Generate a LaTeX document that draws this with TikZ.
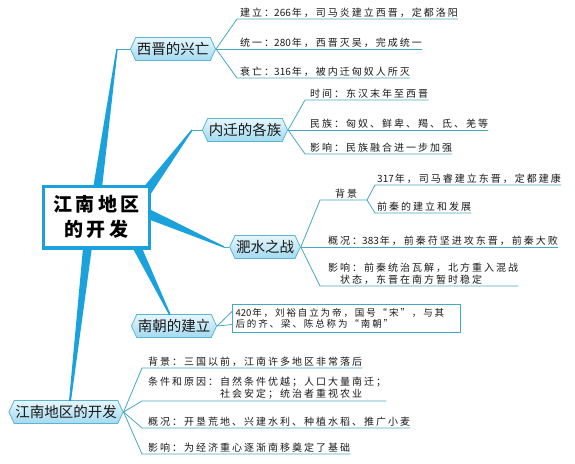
\documentclass[tikz,border=0pt]{standalone}
\usepackage{fontspec}
\setmainfont{Noto Sans CJK SC}
\newfontfamily\leaffont[LetterSpace=20]{Noto Sans CJK SC}
\newfontfamily\headfont{Noto Sans CJK SC}
\newfontfamily\titlefont{Noto Sans CJK SC}
\usetikzlibrary{shapes.symbols,calc}
\definecolor{thickc}{HTML}{1BA2DC}
\definecolor{thinc}{HTML}{45A9C3}
\definecolor{nodeborder}{HTML}{5BB5D1}
\definecolor{nodetop}{HTML}{E6F6FC}
\definecolor{nodebot}{HTML}{A3DAF1}
\definecolor{leafc}{HTML}{1A1A1A}
\newcommand\mmtaper[4]{\fill[thickc] ($(#1)!#3!90:(#2)$) -- ($(#2)!#4!-90:(#1)$) -- ($(#2)!#4!90:(#1)$) -- ($(#1)!#3!-90:(#2)$) -- cycle;}
\newcommand\tsp{\hspace{3.5pt}}
\newcommand\dgt[1]{{\headfont #1}\hspace{1pt}}
\tikzset{
  head/.style={signal, signal to=west and east, signal pointer angle=130,
    draw=nodeborder, line width=0.8pt, top color=nodetop, bottom color=nodebot,
    font=\headfont\fontsize{14.5}{14.5}\selectfont, text=black!90,
    inner xsep=1pt, inner ysep=3pt, minimum height=23pt},
  leaf/.style={anchor=south west, inner xsep=0pt, inner ysep=1.5pt,
    font=\leaffont\fontsize{10}{12}\selectfont, text=leafc, align=left},
  thinline/.style={draw=thinc, line width=0.8pt},
}
\begin{document}
\begin{tikzpicture}[x=1pt,y=-1pt]
\useasboundingbox (0,0) rectangle (575,463);
\fill[white] (0,0) rectangle (575,463);

% header nodes
\node[head] (xj) at (173,49) {西晋的兴亡};
\node[head] (nq) at (245,130) {内迁的各族};
\node[head] (fs) at (265,247) {淝水之战};
\node[head] (nc) at (174,326) {南朝的建立};
\node[head] (jn) at (66,412) {江南地区的开发};

% tapered branches
\coordinate (r1) at (97,192);  \coordinate (t1) at (117,49);
\coordinate (r2) at (146,192); \coordinate (t2) at (192,130);
\coordinate (r3) at (146,213); \coordinate (t3) at (224,247);
\coordinate (r4) at (135,243); \coordinate (t4) at (170,315);
\coordinate (r5) at (88,243);  \coordinate (t5) at (70,401);
\mmtaper{r1}{t1}{4.5pt}{0.7pt}
\mmtaper{r2}{t2}{5pt}{0.7pt}
\mmtaper{r3}{t3}{5pt}{0.7pt}
\mmtaper{r4}{t4}{4.5pt}{0.8pt}
\mmtaper{r5}{t5}{4.5pt}{1pt}
\draw[thinline] (t1) -- (xj.west);
\draw[thinline] (t2) -- (nq.west);
\draw[thinline] (t3) -- (fs.west);

% main box
\node[draw=thickc, line width=3.3pt, fill=white, minimum width=105.7pt,
  minimum height=61.7pt, align=center, inner sep=0pt,
  font=\titlefont\bfseries\fontsize{19}{25}\selectfont] (main) at (96.5,217)
  {江\tsp 南\tsp 地\tsp 区\\的\tsp 开\tsp 发};

% 西晋的兴亡
\node[leaf] (x1) at (240,19) {建立：\dgt{266}年，司马炎建立西晋，定都洛阳};
\node[leaf] (x2) at (240,49) {统一：\dgt{280}年，西晋灭吴，完成统一};
\node[leaf] (x3) at (240,78) {衰亡：\dgt{316}年，被内迁匈奴人所灭};
\coordinate (x1s) at (237,19);
\coordinate (x3s) at (237,78);
\draw[thinline] (xj.east) -- (x1s) -- (x1.south east);
\draw[thinline] (xj.east) -- (x2.south east);
\draw[thinline] (xj.east) -- (x3s) -- (x3.south east);

% 内迁的各族
\node[leaf] (n1) at (310,100) {时间：东汉末年至西晋};
\node[leaf] (n2) at (310,130) {民族：匈奴、鲜卑、羯、氐、羌等};
\node[leaf] (n3) at (310,154) {影响：民族融合进一步加强};
\coordinate (n1s) at (305,100);
\coordinate (n3s) at (305,154);
\draw[thinline] (nq.east) -- (n1s) -- (n1.south east);
\draw[thinline] (nq.east) -- (n2.south east);
\draw[thinline] (nq.east) -- (n3s) -- (n3.south east);

% 淝水之战
\node[leaf] (f0) at (335,200) {背景};
\coordinate (f0s) at (320,200);
\coordinate (f0e) at (367,200);
\node[leaf] (f1) at (377,185) {\dgt{317}年，司马睿建立东晋，定都建康};
\node[leaf] (f2) at (377,213) {前秦的建立和发展};
\coordinate (f1s) at (375,185);
\coordinate (f2s) at (375,213);
\node[leaf] (f3) at (328,247) {概况：\dgt{383}年，前秦苻坚进攻东晋，前秦大败};
\node[leaf] (f4) at (328,286) {影响：前秦统治瓦解，北方重入混战\\\hspace*{12pt}状态，东晋在南方暂时稳定};
\coordinate (f4s) at (320,286);
\draw[thinline] (fs.east) -- (f0s) -- (f0e);
\draw[thinline] (f0e) -- (f1s) -- (f1.south east);
\draw[thinline] (f0e) -- (f2s) -- (f2.south east);
\draw[thinline] (fs.east) -- (f3.south east);
\draw[thinline] (fs.east) -- (f4s) -- (f4.south east);

% 南朝的建立
\node[draw=thinc, line width=1pt, fill=white, anchor=west, text width=222pt,
  inner xsep=3pt, inner ysep=2pt, minimum height=28pt, align=left,
  font=\leaffont\fontsize{9.5}{11}\selectfont, text=leafc] (ncbox) at (232,318)
  {\dgt{420}年，刘裕自立为帝，国号“宋”，与其\\后的齐、梁、陈总称为“南朝”};
\draw[thinline] (nc.east) -- ($(ncbox.west)+(0,-6.5)$);
\draw[thinline] (nc.east) -- ($(ncbox.west)+(0,6.5)$);

% 江南地区的开发
\node[leaf] (b1) at (148,368) {背景：三国以前，江南许多地区非常落后};
\node[leaf] (b2) at (148,401) {条件和原因：自然条件优越；人口大量南迁；\\\hspace*{72pt}社会安定；统治者重视农业};
\node[leaf] (b3) at (148,428) {概况：开垦荒地、兴建水利、种植水稻、推广小麦};
\node[leaf] (b4) at (148,454) {影响：为经济重心逐渐南移奠定了基础};
\coordinate (b1s) at (142,368);
\coordinate (b2s) at (142,401);
\coordinate (b3s) at (142,428);
\coordinate (b4s) at (142,454);
\draw[thinline] (jn.east) -- (b1s) -- (b1.south east);
\draw[thinline] (jn.east) -- (b2s) -- (b2.south east);
\draw[thinline] (jn.east) -- (b3s) -- (b3.south east);
\draw[thinline] (jn.east) -- (b4s) -- (b4.south east);
\end{tikzpicture}
\end{document}
